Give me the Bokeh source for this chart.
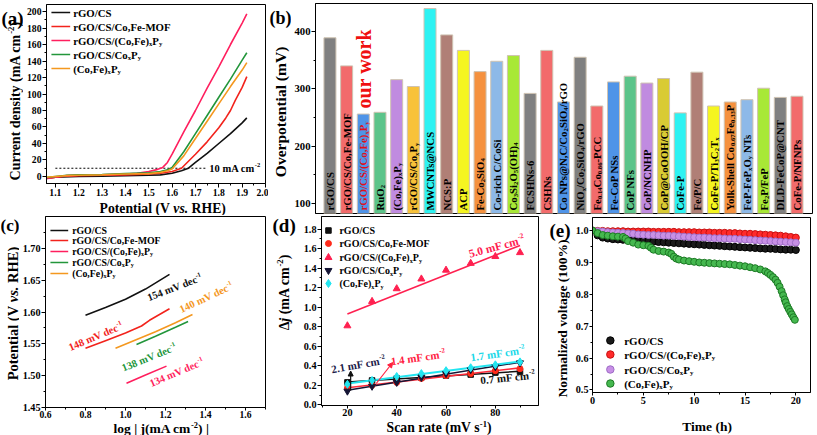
import math
import numpy as np
from bokeh.plotting import figure
from bokeh.layouts import column, row
from bokeh.models import Range1d, Label, FixedTicker, PrintfTickFormatter, Arrow, NormalHead
from bokeh.embed import file_html
from bokeh.resources import INLINE

FONT = "Liberation Serif"

# ---------------- (a) LSV data ----------------
lsv_labels = [[("rGO/CS", "n")],
              [("rGO/CS/Co,Fe-MOF", "n")],
              [("rGO/CS/(Co,Fe)", "n"), ("x", "sub"), ("P", "n"), ("y", "sub")],
              [("rGO/CS/Co", "n"), ("x", "sub"), ("P", "n"), ("y", "sub")],
              [("(Co,Fe)", "n"), ("x", "sub"), ("P", "n"), ("y", "sub")]]
lsv_colors = ["#111111", "#F2231C", "#FF1F5E", "#23963B", "#F4981F"]
v_cs = [1.04, 1.10, 1.20, 1.30, 1.40, 1.50, 1.55, 1.60, 1.64, 1.67, 1.70, 1.75, 1.80, 1.85, 1.90, 1.92]
j_cs = [-2.5, -1.0, 0.0, 0.5, 1.0, 1.5, 2.0, 4.0, 7.0, 10.0, 17.0, 28.0, 40.0, 52.0, 65.0, 71.0]
v_mof = [1.04, 1.10, 1.15, 1.20, 1.30, 1.40, 1.50, 1.55, 1.60, 1.64, 1.70, 1.75, 1.80, 1.83, 1.85, 1.87, 1.90, 1.92]
j_mof = [-3.0, -1.0, 0.5, 1.0, 1.5, 2.0, 3.0, 4.0, 6.0, 10.0, 27.0, 42.0, 59.0, 71.0, 80.0, 92.0, 108.0, 121.0]
v_cfp_rgo = [1.04, 1.10, 1.15, 1.20, 1.30, 1.40, 1.45, 1.50, 1.53, 1.56, 1.58, 1.60, 1.65, 1.70, 1.75, 1.80, 1.85, 1.90, 1.92]
j_cfp_rgo = [-3.5, -1.0, 1.0, 1.5, 2.0, 3.0, 4.0, 6.0, 8.0, 11.0, 17.0, 27.0, 54.0, 80.0, 107.0, 133.0, 160.0, 186.0, 197.0]
v_cop = [1.04, 1.10, 1.15, 1.20, 1.30, 1.40, 1.50, 1.55, 1.58, 1.60, 1.65, 1.70, 1.75, 1.80, 1.85, 1.90, 1.92]
j_cop = [-2.0, 0.0, 1.5, 2.0, 2.5, 3.5, 4.5, 6.0, 8.0, 11.0, 30.0, 52.0, 74.0, 96.0, 118.0, 141.0, 150.0]
v_cfp = [1.04, 1.10, 1.15, 1.20, 1.30, 1.40, 1.50, 1.55, 1.58, 1.60, 1.65, 1.70, 1.75, 1.80, 1.85, 1.90, 1.92]
j_cfp = [-1.5, 0.0, 1.0, 1.5, 2.0, 3.0, 3.5, 5.0, 7.0, 9.0, 25.0, 46.0, 67.0, 88.0, 109.0, 129.0, 138.0]
ref_current = 10
ref_line_v = [1.10, 1.745]
a_xticks = [1.1, 1.2, 1.3, 1.4, 1.5, 1.6, 1.7, 1.8, 1.9, 2.0]
a_yticks = [0, 20, 40, 60, 80, 100, 120, 140, 160, 180, 200]

# ---------------- (b) overpotential data ----------------
catalysts = [
    [("rGO/CS", "n")],
    [("rGO/CS/Co,Fe-MOF", "n")],
    [("rGO/CS/(Co,Fe)", "n"), ("x", "sub"), ("P", "n"), ("y", "sub")],
    [("RuO", "n"), ("2", "sub")],
    [("(Co,Fe)", "n"), ("x", "sub"), ("P", "n"), ("y", "sub")],
    [("rGO/CS/Co", "n"), ("x", "sub"), ("P", "n"), ("y", "sub")],
    [("MWCNTs@NCS", "n")],
    [("NCS:P", "n")],
    [("ACP", "n")],
    [("Fe-Co", "n"), ("2", "sub"), ("SiO", "n"), ("4", "sub")],
    [("Co-rich C/CoSi", "n")],
    [("Co", "n"), ("3", "sub"), ("Si", "n"), ("2", "sub"), ("O", "n"), ("5", "sub"), ("(OH)", "n"), ("4", "sub")],
    [("FCSHNs-6", "n")],
    [("CSHNs", "n")],
    [("Co NPs@N,C/Co", "n"), ("2", "sub"), ("SiO", "n"), ("4", "sub"), ("/rGO", "n")],
    [("NiO", "n"), ("x", "sub"), ("/Co", "n"), ("2", "sub"), ("SiO", "n"), ("4", "sub"), ("/rGO", "n")],
    [("Fe", "n"), ("0.14", "sub"), ("Co", "n"), ("0.86", "sub"), ("-PCC", "n")],
    [("Fe-CoP NSs", "n")],
    [("CoP NFs", "n")],
    [("CoP/NCNHP", "n")],
    [("CoP@CoOOH/CP", "n")],
    [("CoFe-P", "n")],
    [("Fe/P/C", "n")],
    [("CoFe-P/Ti", "n"), ("3", "sub"), ("C", "n"), ("2", "sub"), ("T", "n"), ("x", "sub")],
    [("Yolk-Shell Co", "n"), ("0.67", "sub"), ("Fe", "n"), ("0.33", "sub"), ("P", "n")],
    [("FeP-FeP", "n"), ("x", "sub"), ("O", "n"), ("y", "sub"), ("", "sp"), ("NTs", "n")],
    [("Fe", "n"), ("2", "sub"), ("P/FeP", "n")],
    [("DLD-FeCoP@CNT", "n")],
    [("CoFe-P/NFNPs", "n")],
]
overpotential = [389, 340, 256, 259, 316, 304, 440, 394, 367, 330, 348, 358, 292, 367, 277,
                 355, 270, 312, 322, 310, 318, 258, 329, 270, 277, 281, 301, 285, 287]
GRY, RED, BLU, GRN, VIO, GLD, CYN, BRN, YEL, ORG, LBL, LIM, MUS = (
    "#808080", "#F26B6B", "#4F94E8", "#5CC48A", "#C08BE0", "#F8C23A", "#2EF2F2",
    "#B07F76", "#F5F520", "#F5913E", "#8DB9E8", "#A8E836", "#D9CB34")
bar_colors = [GRY, RED, BLU, GRN, VIO, GLD, CYN, BRN, YEL, ORG, LBL, LIM, GRY, RED, BLU,
              GRY, RED, BLU, GRN, VIO, MUS, CYN, BRN, YEL, ORG, LBL, LIM, GRY, RED]
b_yticks = [100, 200, 300, 400]

# ---------------- (c) Tafel data ----------------
tafel_x = [[0.80, 0.90, 1.00, 1.10, 1.22],
           [0.80, 0.90, 1.00, 1.08, 1.12, 1.22],
           [1.005, 1.10, 1.205],
           [1.055, 1.15, 1.25, 1.313],
           [0.95, 1.05, 1.15, 1.25, 1.335]]
tafel_y = [[1.595, 1.607, 1.620, 1.636, 1.659],
           [1.543, 1.555, 1.567, 1.578, 1.587, 1.605],
           [1.488, 1.501, 1.515],
           [1.549, 1.562, 1.576, 1.585],
           [1.543, 1.556, 1.569, 1.583, 1.596]]
tafel_colors = ["#111111", "#F2231C", "#FF1F5E", "#23963B", "#F4981F"]
tafel_slopes = ["154", "148", "134", "138", "140"]
c_xticks = [0.6, 0.8, 1.0, 1.2, 1.4, 1.6]
c_yticks = [1.45, 1.50, 1.55, 1.60, 1.65, 1.70]

# ---------------- (d) Cdl data ----------------
scan_rate = [20, 30, 40, 50, 60, 70, 80, 90]
dj_cs = [0.23, 0.25, 0.27, 0.28, 0.30, 0.31, 0.33, 0.34]
dj_mof = [0.17, 0.20, 0.23, 0.27, 0.30, 0.32, 0.35, 0.37]
dj_cfp_rgo = [0.81, 1.06, 1.19, 1.29, 1.38, 1.45, 1.52, 1.56]
dj_cop = [0.14, 0.19, 0.23, 0.28, 0.32, 0.36, 0.39, 0.43]
dj_cfp = [0.21, 0.25, 0.29, 0.32, 0.35, 0.38, 0.41, 0.44]
cdl_values = ["5.0", "2.1", "1.4", "1.7", "0.7"]
d_xticks = [20, 40, 60, 80]
d_yticks = [0.0, 0.2, 0.4, 0.6, 0.8, 1.0, 1.2, 1.4, 1.6, 1.8]

# ---------------- (e) stability data ----------------
t_std = [0, 0.5, 1, 1.5, 2, 2.5, 3, 3.5, 4, 4.5, 5, 5.5, 6, 6.5, 7, 7.5, 8, 8.5, 9, 9.5, 10,
         10.5, 11, 11.5, 12, 12.5, 13, 13.5, 14, 14.5, 15, 15.5, 16, 16.5, 17, 17.5, 18, 18.5, 19, 19.5, 20]
u_cs = [1.000, 0.985, 0.978, 0.975, 0.973, 0.972, 0.971, 0.970, 0.969, 0.968, 0.967, 0.966, 0.965, 0.964,
        0.963, 0.962, 0.961, 0.960, 0.959, 0.958, 0.957, 0.956, 0.955, 0.954, 0.953, 0.952, 0.951, 0.950,
        0.949, 0.948, 0.947, 0.946, 0.945, 0.944, 0.943, 0.943, 0.942, 0.941, 0.940, 0.940, 0.939]
u_cfp_rgo = [1.000, 0.999, 0.999, 0.998, 0.998, 0.998, 0.998, 0.997, 0.997, 0.997, 0.997, 0.997, 0.996, 0.996,
             0.996, 0.996, 0.996, 0.995, 0.995, 0.995, 0.995, 0.994, 0.994, 0.994, 0.993, 0.993, 0.993, 0.992,
             0.992, 0.991, 0.990, 0.990, 0.989, 0.988, 0.987, 0.986, 0.985, 0.984, 0.982, 0.980, 0.978]
u_cop = [1.000, 0.998, 0.997, 0.995, 0.994, 0.993, 0.992, 0.991, 0.990, 0.988, 0.987, 0.986, 0.986, 0.985,
         0.984, 0.984, 0.983, 0.982, 0.981, 0.980, 0.979, 0.978, 0.978, 0.977, 0.976, 0.976, 0.975, 0.974,
         0.974, 0.973, 0.972, 0.971, 0.970, 0.969, 0.968, 0.967, 0.966, 0.965, 0.964, 0.963, 0.962]
t_cfp = [0, 0.5, 1, 1.5, 2, 2.5, 3, 3.25, 3.5, 4, 4.5, 5, 5.5, 5.75, 6, 6.5, 7, 7.5, 7.75, 8, 8.25, 8.5,
         9, 9.5, 10, 10.5, 11, 11.5, 12, 12.5, 13, 13.5, 14, 14.5, 15, 15.5, 16, 16.5, 17, 17.25, 17.5,
         17.75, 18, 18.2, 18.4, 18.6, 18.75, 18.9, 19.0, 19.15, 19.3, 19.45, 19.6, 19.75, 19.9]
u_cfp = [1.000, 0.992, 0.986, 0.984, 0.982, 0.981, 0.980, 0.975, 0.967, 0.962, 0.956, 0.954, 0.952, 0.946,
         0.940, 0.936, 0.934, 0.931, 0.927, 0.918, 0.912, 0.909, 0.906, 0.904, 0.902, 0.900, 0.899, 0.898,
         0.897, 0.896, 0.895, 0.894, 0.892, 0.890, 0.888, 0.885, 0.882, 0.878, 0.872, 0.867, 0.861, 0.854,
         0.846, 0.836, 0.824, 0.810, 0.797, 0.784, 0.775, 0.763, 0.754, 0.745, 0.737, 0.728, 0.720]
e_labels = [[("rGO/CS", "n")],
            [("rGO/CS/(Co,Fe)", "n"), ("x", "sub"), ("P", "n"), ("y", "sub")],
            [("rGO/CS/Co", "n"), ("x", "sub"), ("P", "n"), ("y", "sub")],
            [("(Co,Fe)", "n"), ("x", "sub"), ("P", "n"), ("y", "sub")]]
e_fill = ["#1A1A1A", "#FF2A2A", "#C890E6", "#45B84F"]
e_line = ["#000000", "#C81010", "#9E6CC6", "#1D7A25"]
e_xticks = [0, 5, 10, 15, 20]
e_yticks = [0.5, 0.6, 0.7, 0.8, 0.9, 1.0]

# ---------------- helpers ----------------
WB = {' ': 250, '(': 333, ')': 333, ',': 250, '.': 250, '/': 278, '-': 333, '@': 930, ':': 333,
      '|': 220, '%': 1000, 'Δ': 612,
      'A': 722, 'B': 667, 'C': 722, 'D': 722, 'E': 667, 'F': 611, 'G': 778, 'H': 778, 'I': 389,
      'J': 500, 'K': 778, 'L': 667, 'M': 944, 'N': 722, 'O': 778, 'P': 611, 'Q': 778, 'R': 722,
      'S': 556, 'T': 667, 'U': 722, 'V': 722, 'W': 1000, 'X': 722, 'Y': 722, 'Z': 667,
      'a': 500, 'b': 556, 'c': 444, 'd': 556, 'e': 444, 'f': 333, 'g': 500, 'h': 556, 'i': 278,
      'j': 333, 'k': 556, 'l': 278, 'm': 833, 'n': 556, 'o': 500, 'p': 556, 'q': 556, 'r': 444,
      's': 389, 't': 333, 'u': 556, 'v': 500, 'w': 722, 'x': 500, 'y': 500, 'z': 444}
WBI = {'j': 278, 'v': 444, 's': 389, 'y': 444, 'x': 500}


def twidth(s, size, italic=False):
    tot = 0
    for ch in s:
        if italic and ch in WBI:
            tot += WBI[ch]
        else:
            tot += WB.get(ch, 500)
    return tot / 1000.0 * size


def rich(p, x, y, pieces, size, color="black", angle=0.0, align="left", sup_shift=0.30):
    sizes, widths = [], []
    for t, k in pieces:
        fs = size * 0.62 if k in ("sub", "sup") else size
        sizes.append(fs)
        widths.append(0.25 * size if k == "sp" else twidth(t, fs, k == "i"))
    total = sum(widths)
    d = {"left": 0.0, "center": -total / 2.0, "right": -total}[align]
    a = math.radians(angle)
    for (t, k), fs, w in zip(pieces, sizes, widths):
        if k == "sp":
            d += w
            continue
        s = -0.28 * size if k == "sub" else (sup_shift * size if k == "sup" else 0.0)
        xo = d * math.cos(a) - s * math.sin(a)
        yo = d * math.sin(a) + s * math.cos(a)
        p.add_layout(Label(x=x, y=y, x_offset=xo, y_offset=yo, text=t,
                           text_font=FONT, text_font_size=f"{fs:.1f}px",
                           text_font_style="bold italic" if k == "i" else "bold",
                           text_color=color, angle=a, text_align="left", text_baseline="middle"))
        d += w


def panel(box, frame, xr, yr):
    x0, y0, x1, y1 = box
    fx0, fy0, fx1, fy1 = frame
    p = figure(width=x1 - x0, height=y1 - y0, x_range=Range1d(*xr), y_range=Range1d(*yr),
               toolbar_location=None, output_backend="svg",
               min_border_left=fx0 - x0, min_border_right=x1 - fx1,
               min_border_top=fy0 - y0, min_border_bottom=y1 - fy1)
    p.xgrid.visible = False
    p.ygrid.visible = False
    p.outline_line_color = "black"
    p.outline_line_alpha = 1.0
    p.outline_line_width = 1
    p.background_fill_color = "white"
    p.border_fill_color = "white"

    def D(X, Y):
        return (xr[0] + (X - fx0) / (fx1 - fx0) * (xr[1] - xr[0]),
                yr[0] + (fy1 - Y) / (fy1 - fy0) * (yr[1] - yr[0]))
    return p, D


def strip(box):
    x0, y0, x1, y1 = box
    s = figure(width=x1 - x0, height=y1 - y0, x_range=Range1d(0, x1 - x0), y_range=Range1d(y1 - y0, 0),
               toolbar_location=None, output_backend="svg", x_axis_location=None, y_axis_location=None,
               min_border_left=0, min_border_right=0, min_border_top=0, min_border_bottom=0)
    for g in s.xgrid + s.ygrid:
        g.visible = False
    s.outline_line_color = None
    s.background_fill_color = "white"
    s.border_fill_color = "white"

    def P(X, Y):
        return (X - x0, Y - y0)
    return s, P


def style_axis(ax, ticks, minor, fmt, size, tick_out=4, standoff=1):
    ax.ticker = FixedTicker(ticks=ticks, minor_ticks=minor)
    ax.formatter = PrintfTickFormatter(format=fmt)
    ax.axis_line_color = "black"
    ax.major_tick_line_color = "black"
    ax.minor_tick_line_color = "black"
    ax.major_tick_in = 0
    ax.major_tick_out = tick_out
    ax.minor_tick_in = 0
    ax.minor_tick_out = 2
    ax.major_label_text_font = FONT
    ax.major_label_text_font_style = "bold"
    ax.major_label_text_font_size = f"{size:.1f}px"
    ax.major_label_text_color = "black"
    ax.major_label_standoff = standoff


def mids(t):
    return [(t[i] + t[i + 1]) / 2 for i in range(len(t) - 1)]


POT_TITLE = [("Potential (V", "n"), ("", "sp"), ("vs.", "i"), ("", "sp"), ("RHE)", "n")]

# ================= panel (a) =================
sa, Pa = strip((0, 0, 23, 215))
pa, Da = panel((23, 0, 268, 200), (43, 4, 265, 183), (1.062, 2.0), (-8.5, 208.5))
ba, Ba = strip((23, 200, 268, 215))
style_axis(pa.xaxis[0], a_xticks, mids(a_xticks), "%.1f", 9.7)
style_axis(pa.yaxis[0], a_yticks, mids(a_yticks), "%d", 9.7)
pa.line(ref_line_v, [ref_current, ref_current], line_color="black", line_width=1, line_dash="2 2")
for vv, jj, col in zip([v_cs, v_mof, v_cfp_rgo, v_cop, v_cfp], [j_cs, j_mof, j_cfp_rgo, j_cop, j_cfp], lsv_colors):
    pa.line(vv, jj, line_color=col, line_width=1.6)
for k, Y in enumerate([12, 26, 40, 54, 68]):
    lx0, ly = Da(48, Y)
    lx1, _ = Da(67, Y)
    pa.line([lx0, lx1], [ly, ly], line_color=lsv_colors[k], line_width=1.6)
    tx, ty = Da(70, Y)
    rich(pa, tx, ty, lsv_labels[k], 10.8)
tx, ty = Da(208, 168)
rich(pa, tx, ty, [("10 mA cm", "n"), ("-2", "sup")], 10.5)
tx, ty = Pa(1, 15)
rich(sa, tx, ty, [("(a)", "n")], 19)
tx, ty = Pa(15, 100)
rich(sa, tx, ty, [("Current density (mA cm", "n"), ("-2", "sup"), (")", "n")], 14, angle=90, align="center")
tx, ty = Ba(153, 207.5)
rich(ba, tx, ty, POT_TITLE, 13.7, align="center")

# ================= panel (b) =================
sb, Pb = strip((268, 0, 291, 215))
pb, Db = panel((291, 0, 817, 215), (313, 3, 812, 213), (-0.866, 28.93), (82.5, 448.8))
pb.xaxis.visible = False
style_axis(pb.yaxis[0], b_yticks, [150, 250, 350, 450], "%d", 10.7)
idx = list(range(len(overpotential)))
pb.vbar(x=idx, top=overpotential, bottom=0, width=0.72, fill_color=bar_colors,
        line_color="#CFC3B2", line_width=1)
_, ybase = Db(0, 210)
for i, pcs in enumerate(catalysts):
    rich(pb, i, ybase, pcs, 10.8, color="#E0101A" if i == 2 else "black", angle=90)
tx, ty = Db(362, 108)
rich(pb, tx, ty, [("our work", "n")], 20, color="#F01010", angle=90)
tx, ty = Pb(269, 15)
rich(sb, tx, ty, [("(b)", "n")], 18)
tx, ty = Pb(280, 111)
rich(sb, tx, ty, [("Overpotential (mV)", "n")], 15.5, angle=90, align="center")

# ================= panel (c) =================
sc, Pc = strip((0, 215, 19, 435))
pc, Dc = panel((19, 215, 270, 420), (42, 216, 265, 407), (0.6, 1.7), (1.45, 1.75))
bc, Bc = strip((19, 420, 270, 435))
style_axis(pc.xaxis[0], c_xticks, mids(c_xticks) + [1.7], "%.1f", 9.6, tick_out=3, standoff=0)
style_axis(pc.yaxis[0], c_yticks, mids(c_yticks) + [1.725], "%.2f", 10.2)
for xx, yy, col in zip(tafel_x, tafel_y, tafel_colors):
    pc.line(xx, yy, line_color=col, line_width=1.6)
for k, Y in enumerate([230, 240, 251, 262, 273]):
    lx0, ly = Dc(47, Y)
    lx1, _ = Dc(65, Y)
    pc.line([lx0, lx1], [ly, ly], line_color=tafel_colors[k], line_width=1.6)
    tx, ty = Dc(69, Y)
    rich(pc, tx, ty, lsv_labels[k], 9.8)
slope_pos = [(173, 287, 21), (93, 336, 23), (175, 372, 23), (147, 357, 22), (205, 297, 25)]
for sl, (X, Y, ang), col in zip(tafel_slopes, slope_pos, tafel_colors):
    tx, ty = Dc(X, Y)
    rich(pc, tx, ty, [(sl + " mV dec", "n"), ("-1", "sup")], 10.5, color=col, angle=ang, align="center")
tx, ty = Pc(0, 225)
rich(sc, tx, ty, [("(c)", "n")], 17)
tx, ty = Pc(12, 313)
rich(sc, tx, ty, POT_TITLE, 14.5, angle=90, align="center")
tx, ty = Bc(151, 427.5)
rich(bc, tx, ty, [("log | j(mA cm", "n"), ("-2", "sup"), (") |", "n")], 13.5, align="center", sup_shift=0.22)

# ================= panel (d) =================
sd, Pd = strip((270, 215, 300, 435))
pd_, Dd = panel((300, 215, 540, 419), (320, 216, 538, 405), (9.5, 97.5), (-0.007, 1.93))
bd, Bd = strip((300, 419, 540, 435))
style_axis(pd_.xaxis[0], d_xticks, [10, 30, 50, 70, 90], "%d", 10.2, tick_out=3, standoff=0)
style_axis(pd_.yaxis[0], d_yticks, mids(d_yticks), "%.1f", 10.2)
d_series = [dj_cs, dj_mof, dj_cfp_rgo, dj_cop, dj_cfp]
d_markers = ["square", "circle", "triangle", "inverted_triangle", "diamond"]
d_sizes = [5.5, 6, 7, 7, 8]
d_colors = ["#111111", "#FF2A1A", "#FF2050", "#151535", "#22E5F0"]
d_linecols = ["#111111", "#FF2A3A", "#FF2050", "#151535", "#22E5F0"]
d_lw = [1.5, 1.6, 1.6, 1.5, 2.2]
for ser, lc, lw in zip(d_series, d_linecols, d_lw):
    m, b = np.polyfit(scan_rate, ser, 1)
    xs = [scan_rate[0], scan_rate[-1]]
    pd_.line(xs, [m * xs[0] + b, m * xs[1] + b], line_color=lc, line_width=lw)
for ser, mk, sz, col in zip(d_series, d_markers, d_sizes, d_colors):
    pd_.scatter(scan_rate, ser, marker=mk, size=sz, fill_color=col, line_color=col)
for k, Y in enumerate([230, 243, 257, 270, 283]):
    mx, my = Dd(327, Y)
    pd_.scatter([mx], [my], marker=d_markers[k], size=d_sizes[k], fill_color=d_colors[k], line_color=d_colors[k])
    tx, ty = Dd(338, Y)
    rich(pd_, tx, ty, lsv_labels[k], 10)
cdl_pos = [(496, 246, 15, "#FF2050", 11.5), (357, 364, 10, "#1C1C4A", 11), (417, 357, 8, "#FF2040", 11),
           (497, 353, 8, "#19D8E8", 11), (507, 377, 6, "#111111", 11)]
for cv, (X, Y, ang, col, sz) in zip(cdl_values, cdl_pos):
    tx, ty = Dd(X, Y)
    rich(pd_, tx, ty, [(cv + " mF cm", "n"), ("-2", "sup")], sz, color=col, angle=ang, align="center")
ax0, ay0 = Dd(349.3, 390)
ax1, ay1 = Dd(349.3, 370.5)
pd_.add_layout(Arrow(end=NormalHead(size=5, fill_color="#111111", line_color="#111111"),
                     x_start=ax0, y_start=ay0, x_end=ax1, y_end=ay1, line_color="#111111", line_width=1.2))
ax0, ay0 = Dd(375, 383)
ax1, ay1 = Dd(391.5, 362)
pd_.add_layout(Arrow(end=NormalHead(size=5, fill_color="#FF2040", line_color="#FF2040"),
                     x_start=ax0, y_start=ay0, x_end=ax1, y_end=ay1, line_color="#FF2040", line_width=1.2))
tx, ty = Pd(272, 225)
rich(sd, tx, ty, [("(d)", "n")], 19)
tx, ty = Pd(284, 292)
rich(sd, tx, ty, [("\u0394", "n"), ("j", "i"), ("", "sp"), ("(mA cm", "n"), ("-2", "sup"), (")", "n")],
     14, angle=90, align="center")
tx, ty = Bd(430, 427)
rich(bd, tx, ty, [("Scan rate (mV s", "n"), ("-1", "sup"), (")", "n")], 13.7, align="center", sup_shift=0.22)

# ================= panel (e) =================
se, Pe = strip((540, 215, 572, 435))
pe, De = panel((572, 215, 817, 414), (590, 217, 810, 392), (0.0, 21.44), (0.492, 1.041))
be, Be = strip((572, 414, 817, 435))
style_axis(pe.xaxis[0], e_xticks, [2.5, 7.5, 12.5, 17.5], "%d", 10.2, tick_out=3)
style_axis(pe.yaxis[0], e_yticks, mids(e_yticks), "%.1f", 10.2, tick_out=3)
for tt, uu, fc, lc in zip([t_std, t_std, t_std, t_cfp], [u_cs, u_cfp_rgo, u_cop, u_cfp], e_fill, e_line):
    pe.scatter(tt, uu, marker="circle", size=7, fill_color=fc, line_color=lc, line_width=1)
for k, Y in enumerate([340, 354, 369, 383]):
    mx, my = De(608, Y)
    pe.scatter([mx], [my], marker="circle", size=7.5, fill_color=e_fill[k], line_color=e_line[k])
    tx, ty = De(622, Y)
    rich(pe, tx, ty, e_labels[k], 11)
tx, ty = Pe(549, 230)
rich(se, tx, ty, [("(e)", "n")], 19)
tx, ty = Pe(562, 318)
rich(se, tx, ty, [("Normalized voltage (100%)", "n")], 13.5, angle=90, align="center")
tx, ty = Be(701, 426)
rich(be, tx, ty, [("Time (h)", "n")], 13.5, align="center")

layout = column(row(sa, column(pa, ba), sb, pb),
                row(sc, column(pc, bc), sd, column(pd_, bd), se, column(pe, be)))
open("out.html", "w").write(file_html(layout, INLINE))
